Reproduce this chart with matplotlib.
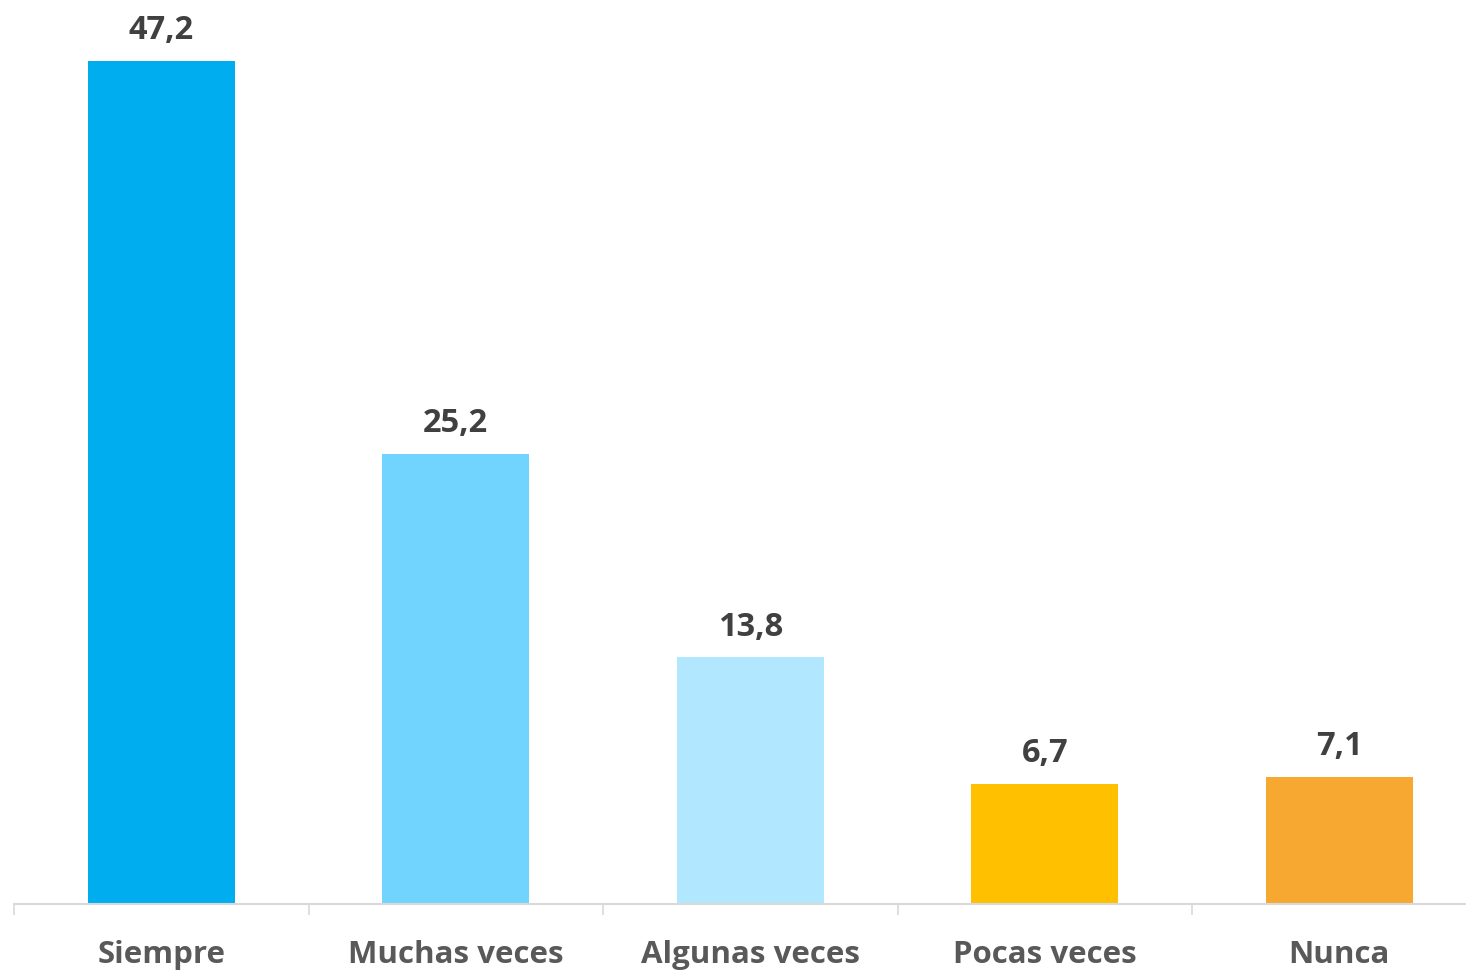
import numpy as np
import matplotlib.pyplot as plt

categories = ["Siempre", "Muchas veces", "Algunas veces", "Pocas veces", "Nunca"]
values = [47.2, 25.2, 13.8, 6.7, 7.1]
colors = ["#00AEEF", "#71D4FF", "#B1E7FF", "#FFC000", "#F7A830"]

plt.rcParams['font.family'] = ['Open Sans', 'DejaVu Sans']

fig = plt.figure(figsize=(14.66, 9.72), dpi=100)
# plot area runs past the right edge of the picture (cropped like the original)
ax = fig.add_axes([14 / 1466, 68 / 972, 1472.5 / 1466, 1 - 68 / 972])

x = np.arange(len(categories))
bars = ax.bar(x, values, width=0.5, color=colors, zorder=2)

for b, v in zip(bars, values):
    ax.annotate(f"{v:.1f}".replace(".", ","),
                (b.get_x() + b.get_width() / 2, v),
                xytext=(0, 10), textcoords="offset points",
                ha="center", va="bottom", fontsize=23.5, fontweight="bold",
                color="#404040")

ax.set_xlim(-0.5, len(categories) - 0.5)
ax.set_ylim(0, 50.6)

ax.set_xticks(x)
ax.set_xticklabels(categories, fontsize=22.5, fontweight="bold", color="#595959")
ax.set_xticks(np.arange(-0.5, len(categories)), minor=True)
ax.tick_params(axis="x", which="major", length=0, pad=26)
ax.tick_params(axis="x", which="minor", length=8, width=1.2, color="#D9D9D9")
ax.set_yticks([])

for side in ["top", "right", "left"]:
    ax.spines[side].set_visible(False)
ax.spines["bottom"].set_color("#D9D9D9")
ax.spines["bottom"].set_linewidth(1.5)

fig.savefig("out.png", dpi=100)
